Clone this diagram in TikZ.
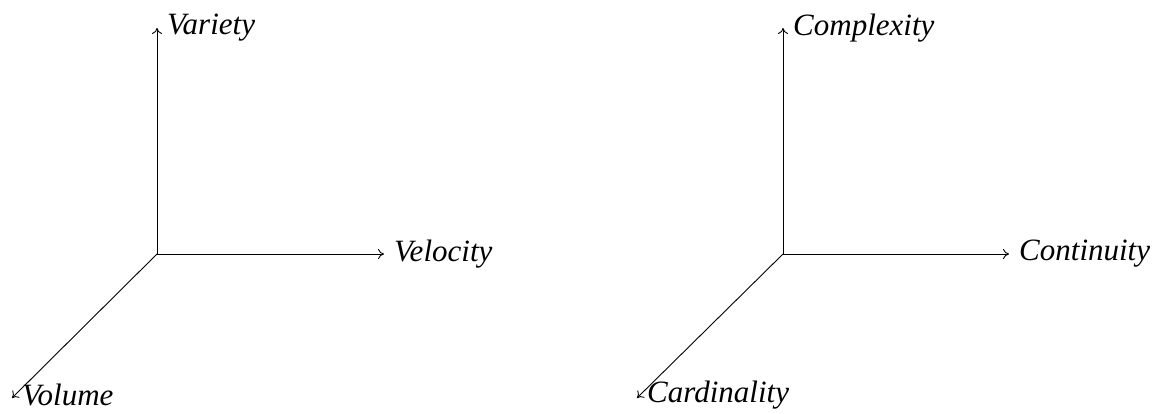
\documentclass[tikz,border=0pt]{standalone}
\usepackage{fontspec}
\setmainfont{Liberation Serif}
\usetikzlibrary{positioning,calc}
\usetikzlibrary{arrows.meta}
\tikzset{axis/.style={line width=0.9pt,-{To[length=6pt,width=10pt]}}, lab/.style={inner sep=0pt,anchor=west,xshift=10pt,font=\fontsize{31}{33}\selectfont\itshape}}

\begin{document}
\begin{tikzpicture}[x=1pt,y=1pt]
\useasboundingbox (0,0) rectangle (1166,413);
% left frame
\coordinate (la) at (157,159);
\coordinate (lb) at (157,385);
\coordinate (lc) at (384,159);
\coordinate (ld) at (12,15);
\draw[axis] (la)--(lb);
\draw[axis] (la)--(lc);
\draw[axis] (la)--(ld);
\node[lab] (lbt) at (lb) {Variety};
\node[lab] (lct) at (lc) {Velocity};
\node[lab,yshift=3pt] (ldt) at (ld) {Volume};
% right frame
\coordinate (ra) at (783,159);
\coordinate (rb) at (783,385);
\coordinate (rc) at (1009,159);
\coordinate (rd) at (637,15);
\draw[axis] (ra)--(rb);
\draw[axis] (ra)--(rc);
\draw[axis] (ra)--(rd);
\node[lab] (rbt) at (rb) {Complexity};
\node[lab] (rct) at (rc) {Continuity};
\node[lab,yshift=3pt] (rdt) at (rd) {Cardinality};
\end{tikzpicture}
\end{document}
